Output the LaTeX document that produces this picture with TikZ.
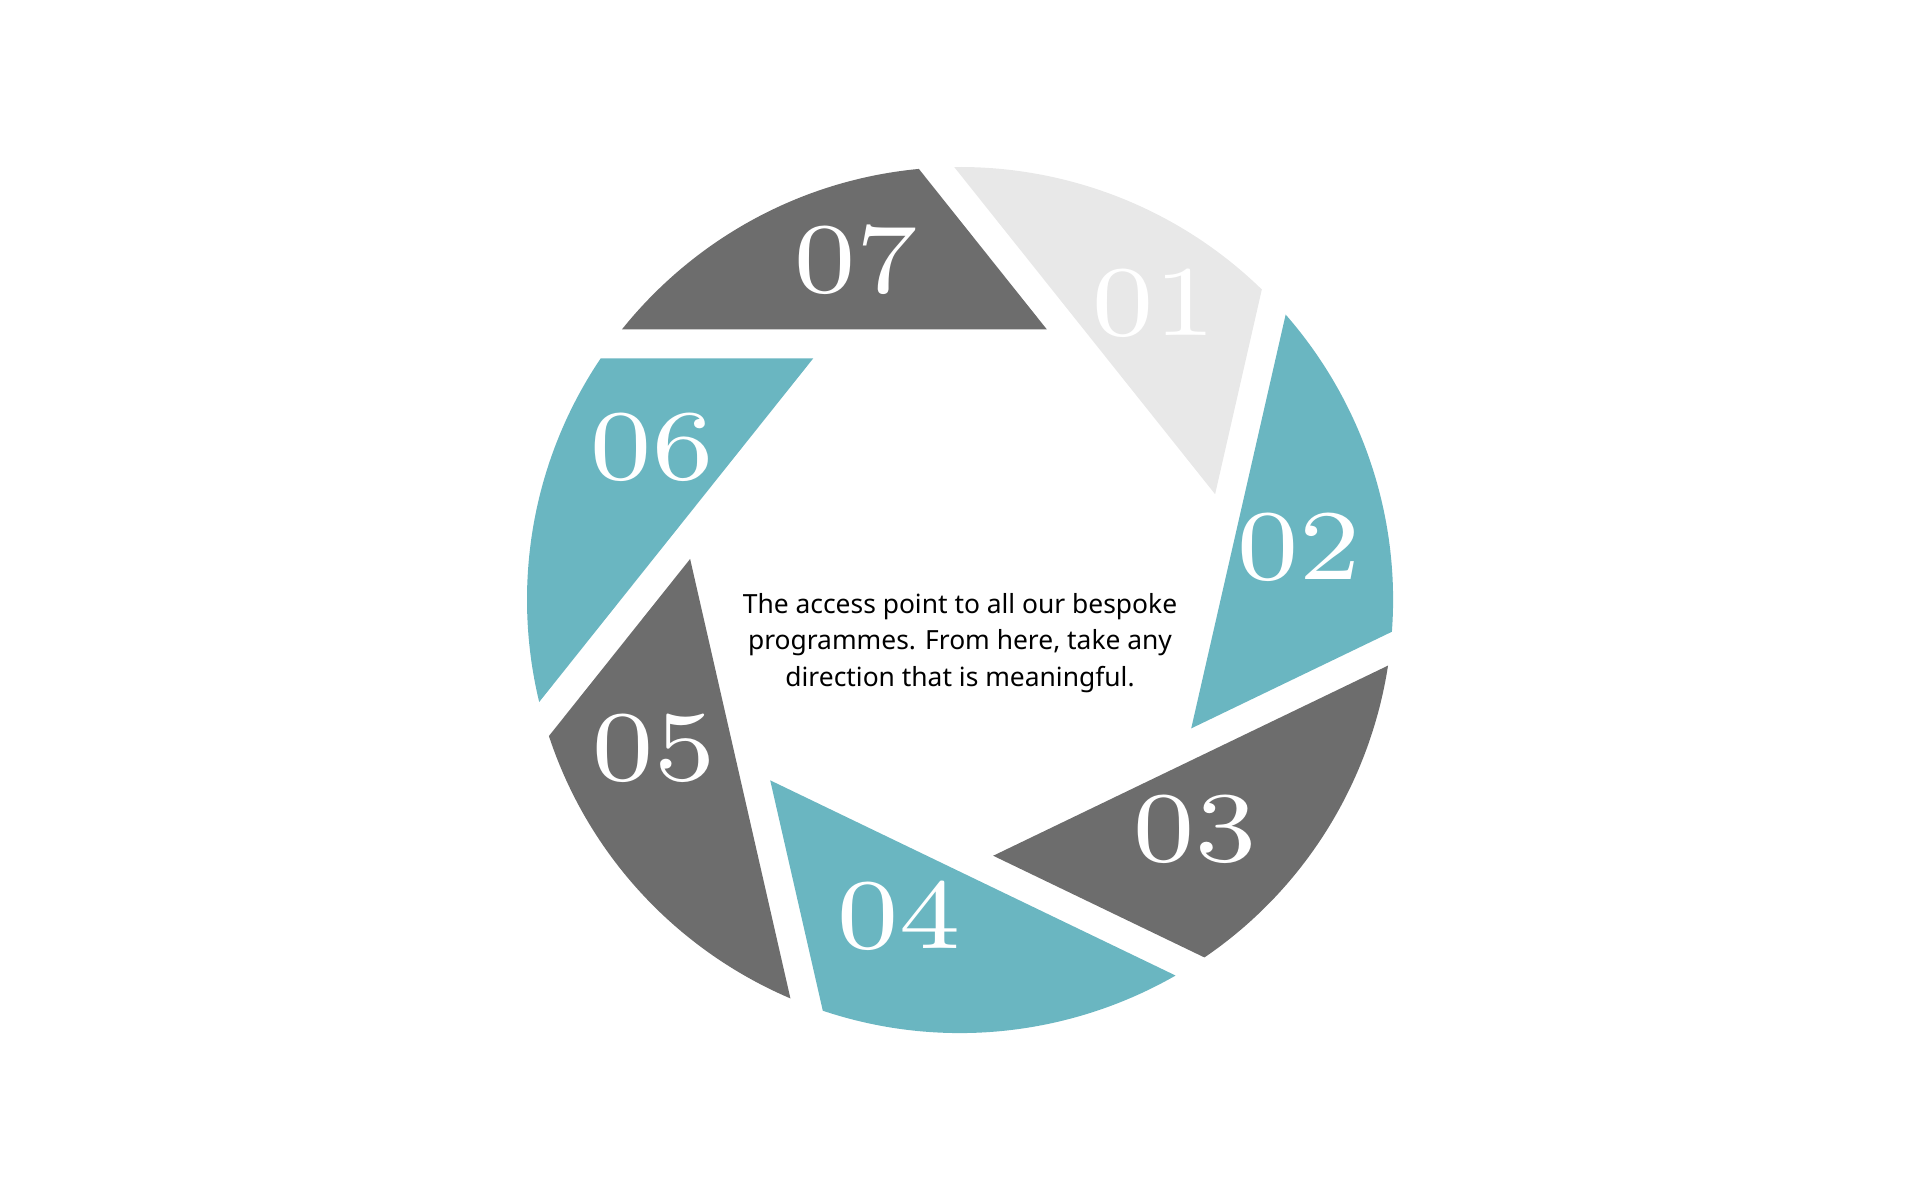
\documentclass[tikz,border=0pt]{standalone}
\usepackage{fontspec}
\setsansfont{Noto Sans}
\newfontfamily\numfont{Latin Modern Roman}[OpticalSize=8]
\usetikzlibrary{calc}
\definecolor{bladedark}{HTML}{6D6D6D}
\definecolor{bladeteal}{HTML}{6AB6C1}
\definecolor{bladelight}{HTML}{E8E8E8}

\begin{document}
\begin{tikzpicture}[x=1pt,y=1pt,
 num/.style={text=white, font=\numfont\fontsize{100}{100}\selectfont, inner sep=0, xscale=1.15, transform shape},
 blurb/.style={align=center, font=\sffamily\fontsize{26.4}{36.7}\selectfont, inner sep=0}]
\useasboundingbox (0,0) rectangle (1920,1200);
\coordinate (C) at (960,600);
\coordinate (H) at (960,613.5);
% seven blades, each one cut out of the same disc
\foreach \k/\col in {0/bladedark,1/bladelight,2/bladeteal,3/bladedark,4/bladeteal,5/bladedark,6/bladeteal} {
 \begin{scope}[shift={(H)}, rotate=-\k*360/7]
 \clip (86.9,257) -- (-1000,257) -- (-1000,1100) -- (-585.4,1100) -- cycle;
 \fill[\col] (C) circle[radius=433];
 \end{scope}
}
\foreach \num/\x/\y in {07/856/940.5, 01/1154/896.5, 02/1299/653, 03/1195/371, 04/899/284.5, 05/654/452, 06/652/753}
 \node[num] (lbl\num) at (\x,\y) {\num};
\node[blurb] (core) at (960,557) {The access point to all our bespoke\\ programmes. From here, take any\\ direction that is meaningful.};
\end{tikzpicture}
\end{document}
